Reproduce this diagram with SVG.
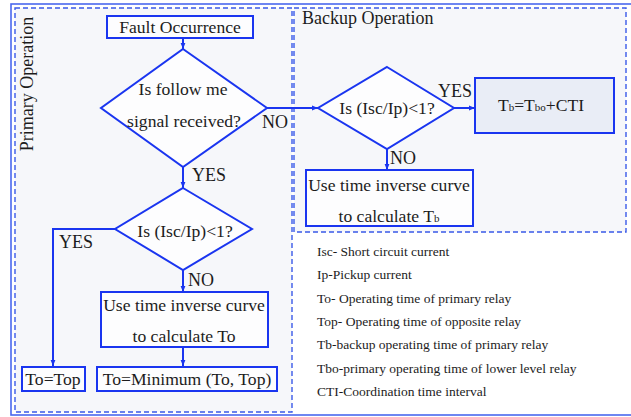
<svg xmlns="http://www.w3.org/2000/svg" width="631" height="417" viewBox="0 0 631 417">
  <defs>
    <marker id="arrow" viewBox="0 0 10 10" refX="10" refY="5" markerWidth="6" markerHeight="6" markerUnits="userSpaceOnUse" orient="auto">
      <path d="M0,1 L10,5 L0,9 z" fill="#1a35f0"/>
    </marker>
    <style>
      .frame { fill: none; stroke: #4a68ee; stroke-width: 1.6; }
      .zone { fill: #f6f7fa; stroke: #3a5ae8; stroke-width: 1.4; stroke-dasharray: 5 3; }
      .shape { fill: #fdfdfe; stroke: #1a35f0; stroke-width: 2; }
      .shape-hl { fill: #e9edf6; stroke: #1a35f0; stroke-width: 2; }
      .link { fill: none; stroke: #1a35f0; stroke-width: 2; }
      text { font-family: "Liberation Serif", "Times New Roman", serif; fill: #1c1c1c; }
      .t { font-size: 17.6px; text-anchor: middle; }
      .lab { font-size: 18px; }
      .legend { font-size: 13.5px; }
      .sub { font-size: 11px; }
    </style>
  </defs>

  <rect x="0" y="0" width="631" height="417" fill="#ffffff"/>

  <!-- outer frame -->
  <rect class="frame" x="11" y="4" width="630" height="411"/>

  <!-- operation zones -->
  <g id="primary-zone">
    <rect class="zone" x="15" y="8" width="277" height="404"/>
    <text class="lab" transform="translate(33,84) rotate(-90)" text-anchor="middle">Primary Operation</text>
  </g>
  <g id="backup-zone">
    <rect class="zone" x="294" y="8" width="332" height="224"/>
    <text class="lab" x="302" y="24">Backup Operation</text>
  </g>

  <!-- connectors -->
  <g id="connectors">
    <line class="link" x1="183" y1="38" x2="183" y2="49" marker-end="url(#arrow)"/>
    <line class="link" x1="183" y1="167" x2="183" y2="188" marker-end="url(#arrow)"/>
    <line class="link" x1="267" y1="108" x2="318" y2="108" marker-end="url(#arrow)"/>
    <polyline class="link" points="115,229 53,229 53,366" marker-end="url(#arrow)"/>
    <line class="link" x1="183" y1="270" x2="183" y2="292" marker-end="url(#arrow)"/>
    <line class="link" x1="183" y1="347" x2="183" y2="366" marker-end="url(#arrow)"/>
    <line class="link" x1="454" y1="108" x2="475" y2="108" marker-end="url(#arrow)"/>
    <line class="link" x1="387" y1="149" x2="387" y2="170" marker-end="url(#arrow)"/>
    <text class="lab" x="262" y="128">NO</text>
    <text class="lab" x="192" y="181">YES</text>
    <text class="lab" x="59" y="248">YES</text>
    <text class="lab" x="188" y="286">NO</text>
    <text class="lab" x="438" y="97">YES</text>
    <text class="lab" x="390" y="164">NO</text>
  </g>

  <!-- primary operation nodes -->
  <g id="fault">
    <rect class="shape" x="107" y="16" width="146" height="22"/>
    <text class="t" x="180" y="33">Fault Occurrence</text>
  </g>
  <g id="follow-me">
    <polygon class="shape" points="183,49 267,108 183,167 101,108"/>
    <text class="t" x="183" y="95">Is follow me</text>
    <text class="t" x="184" y="127">signal received?</text>
  </g>
  <g id="ratio-primary">
    <polygon class="shape" points="183,188 252,229 183,270 115,229"/>
    <text class="t" x="185" y="237">Is (Isc/Ip)&lt;1?</text>
  </g>
  <g id="curve-primary">
    <rect class="shape" x="101" y="292" width="167" height="55"/>
    <text class="t" x="184" y="311">Use time inverse curve</text>
    <text class="t" x="184" y="342">to calculate To</text>
  </g>
  <g id="to-top">
    <rect class="shape" x="22" y="367" width="63" height="24"/>
    <text class="t" x="53" y="385">To=Top</text>
  </g>
  <g id="to-min">
    <rect class="shape" x="97" y="367" width="180" height="24"/>
    <text class="t" x="187" y="385">To=Minimum (To, Top)</text>
  </g>

  <!-- backup operation nodes -->
  <g id="ratio-backup">
    <polygon class="shape" points="387,67 454,108 387,149 318,108"/>
    <text class="t" x="387" y="114">Is (Isc/Ip)&lt;1?</text>
  </g>
  <g id="tb-cti">
    <rect class="shape-hl" x="475" y="78" width="139" height="55"/>
    <text class="t" x="541" y="111">T<tspan class="sub">b</tspan>=T<tspan class="sub">bo</tspan>+CTI</text>
  </g>
  <g id="curve-backup">
    <rect class="shape" x="306" y="170" width="167" height="56"/>
    <text class="t" x="389" y="191">Use time inverse curve</text>
    <text class="t" x="389" y="222">to calculate T<tspan class="sub">b</tspan></text>
  </g>

  <!-- legend -->
  <g id="legend">
    <text class="legend" x="317" y="256">Isc- Short circuit current</text>
    <text class="legend" x="317" y="279">Ip-Pickup current</text>
    <text class="legend" x="317" y="303">To- Operating time of primary relay</text>
    <text class="legend" x="317" y="326">Top- Operating time of opposite relay</text>
    <text class="legend" x="317" y="349">Tb-backup operating time of primary relay</text>
    <text class="legend" x="317" y="373">Tbo-primary operating time of lower level relay</text>
    <text class="legend" x="317" y="396">CTI-Coordination time interval</text>
  </g>
</svg>
